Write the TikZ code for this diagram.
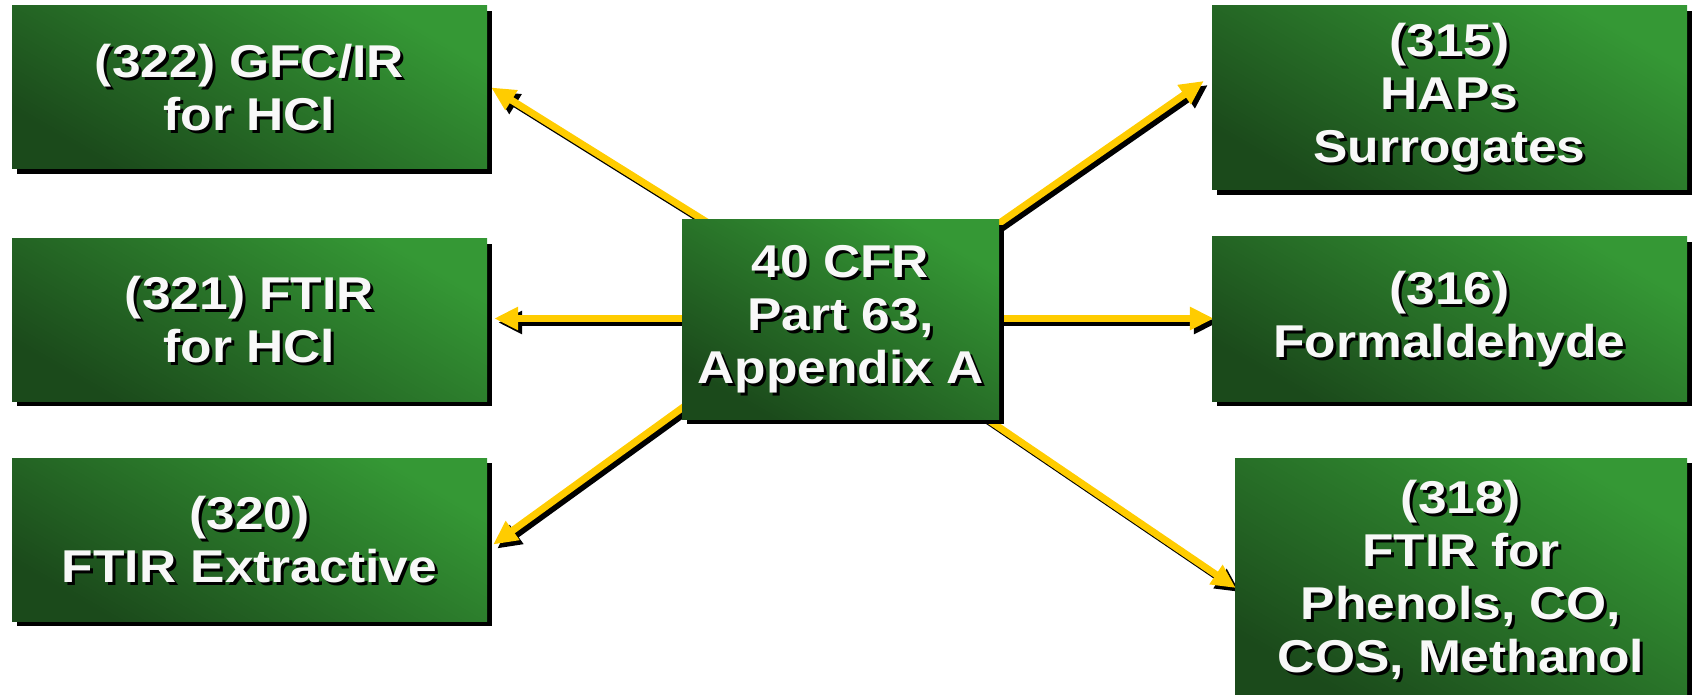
\documentclass[tikz,border=0pt]{standalone}
\usepackage{fontspec}
\newfontfamily\boxfont{Liberation Sans}[FakeStretch=1.12]
\usetikzlibrary{arrows.meta,calc,shadows,backgrounds}

\definecolor{glight}{RGB}{53,152,53}
\definecolor{gdark}{RGB}{27,74,27}
\definecolor{arrowyellow}{RGB}{255,204,0}
\definecolor{textwhite}{RGB}{248,248,248}

\tikzset{
  panel/.style={rectangle, inner sep=0pt, draw=none,
    top color=glight, bottom color=gdark, shading angle=-30,
    drop shadow={shadow xshift=5pt, shadow yshift=-5pt, fill=black, opacity=1}},
  caption/.style={font=\boxfont\bfseries\fontsize{46}{53}\selectfont,
    align=center, text=textwhite, inner sep=0pt},
  captionshadow/.style={caption, text=black},
  link/.style={line width=7pt, draw=arrowyellow,
    -{Triangle[length=24pt,width=22pt]}},
  linkshadow/.style={link, draw=black,
    transform canvas={xshift=4pt,yshift=-4pt}},
}

% a shaded box with its drop shadow and a shadowed white caption
\newcommand\panelbox[5]{%
  \node[panel, minimum width=#3, minimum height=#4] (#1) at (#2) {};
  \node[captionshadow] (#1-s) at ($(#1.center)+(3,3)$) {#5};
  \node[caption] (#1-t) at (#1.center) {#5};
}
% a yellow arrow over its black shadow
\newcommand\linkto[2]{%
  \draw[linkshadow] #1 -- #2;
  \draw[link] #1 -- #2;
}

\begin{document}
\begin{tikzpicture}[x=1pt,y=-1pt]
\useasboundingbox (0,0) rectangle (1692,695);
\clip (0,0) rectangle (1692,695);

\panelbox{m322}{249.5,87.5}{475pt}{163pt}{(322) GFC/IR\\for HCl}
\panelbox{m321}{249.5,320}{475pt}{162pt}{(321) FTIR\\for HCl}
\panelbox{m320}{249.5,539.5}{475pt}{163pt}{(320)\\FTIR Extractive}
\panelbox{m63}{840.5,319.5}{317pt}{199pt}{40 CFR\\Part 63,\\Appendix A}
\panelbox{m315}{1449.5,98}{475pt}{184pt}{(315)\\HAPs\\Surrogates}
\panelbox{m316}{1449.5,319}{475pt}{164pt}{(316)\\Formaldehyde}
\panelbox{m318}{1461,580}{452pt}{244pt}{(318)\\FTIR for\\Phenols, CO,\\COS, Methanol}

\begin{pgfonlayer}{background}
  \linkto{($(m63.center)+(0,-14)$)}{($(m322.east)+(4,0)$)}
  \linkto{($(m63.center)+(0,-1)$)}{($(m321.east)+(7,-1.5)$)}
  \linkto{($(m63.center)+(0,-26)$)}{($(m320.east)+(6,5)$)}
  \linkto{($(m63.center)+(0,14)$)}{($(m315.west)+(-8,-17)$)}
  \linkto{($(m63.center)+(0,-1)$)}{($(m316.west)+(2,-0.5)$)}
  \linkto{(m63.center)}{($(m318.west)+(1,8)$)}
\end{pgfonlayer}
\end{tikzpicture}
\end{document}
